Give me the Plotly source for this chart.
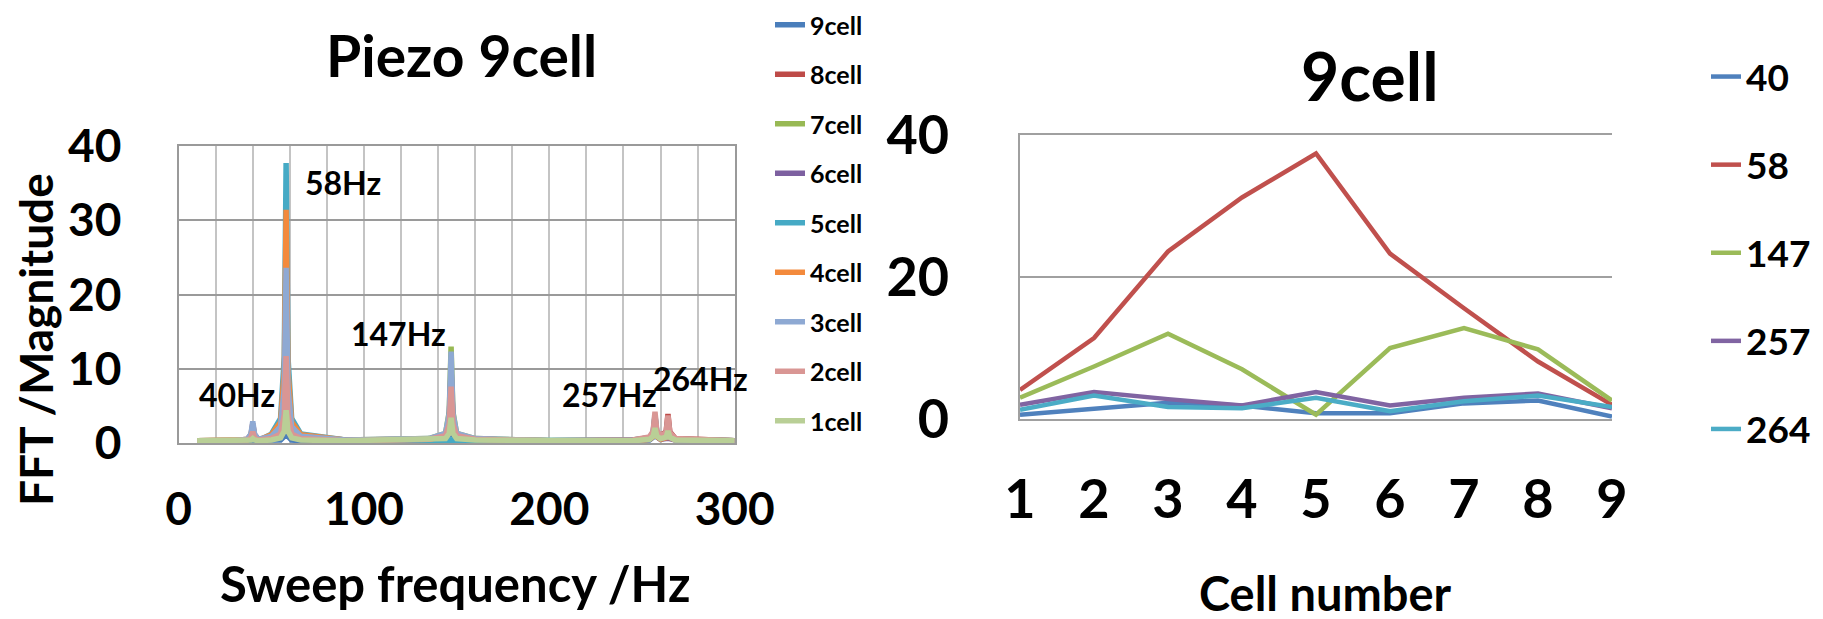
import plotly.graph_objects as go

# ---------------- sweep spectra (left panel) ----------------
freq_hz = [10, 30, 37, 39, 40, 41, 43, 50, 55, 57, 58, 59, 61, 66, 90,
           135, 144, 146, 147, 148, 150, 160, 200, 245, 254, 256, 257, 258,
           260, 263, 264, 265, 268, 300]

cell9 = [0.3, 0.3, 0.3, 0.3, 0.4, 0.3, 0.3, 0.3, 0.4, 0.9, 2.0, 0.9, 0.4, 0.3, 0.3,
         0.4, 0.5, 1.1, 2.8, 1.1, 0.5, 0.4, 0.3, 0.3, 0.4, 0.8, 1.8, 0.8,
         0.5, 0.8, 1.6, 0.8, 0.4, 0.3]
cell8 = [0.3, 0.3, 0.5, 1.1, 2.6, 1.1, 0.5, 0.5, 0.9, 2.7, 8.1, 2.7, 0.9, 0.5, 0.3,
         0.5, 1.1, 3.2, 9.8, 3.2, 1.1, 0.5, 0.3, 0.4, 0.7, 1.4, 3.6, 1.4,
         1.0, 1.5, 3.9, 1.5, 0.6, 0.3]
cell7 = [0.3, 0.3, 0.4, 1.0, 2.2, 1.0, 0.4, 0.7, 1.5, 5.0, 15.6, 5.0, 1.5, 0.7, 0.4,
         0.6, 1.3, 4.2, 13.0, 4.2, 1.3, 0.6, 0.3, 0.3, 0.6, 1.2, 3.0, 1.2,
         0.8, 1.0, 2.5, 1.0, 0.5, 0.3]
cell6 = [0.3, 0.3, 0.3, 0.5, 0.8, 0.5, 0.3, 0.9, 2.2, 7.3, 23.3, 7.3, 2.2, 0.9, 0.4,
         0.5, 1.1, 3.3, 10.0, 3.3, 1.1, 0.5, 0.3, 0.3, 0.5, 0.9, 1.9, 0.9,
         0.5, 0.6, 1.1, 0.6, 0.4, 0.3]
cell5 = [0.3, 0.3, 0.3, 0.5, 0.8, 0.5, 0.3, 1.2, 3.3, 11.6, 37.7, 11.6, 3.3, 1.2, 0.4,
         0.3, 0.2, 0.1, 0.6, 0.2, 0.3, 0.3, 0.3, 0.4, 0.7, 1.5, 3.8, 1.5,
         0.9, 1.2, 3.0, 1.2, 0.5, 0.3]
cell4 = [0.3, 0.3, 0.4, 0.9, 1.9, 0.9, 0.4, 1.1, 2.8, 9.7, 31.4, 9.7, 2.8, 1.1, 0.4,
         0.5, 0.9, 2.4, 7.0, 2.4, 0.9, 0.5, 0.3, 0.3, 0.5, 0.9, 1.9, 0.9,
         0.5, 0.7, 1.5, 0.7, 0.4, 0.3]
cell3 = [0.3, 0.3, 0.5, 1.2, 2.9, 1.2, 0.5, 0.9, 2.2, 7.4, 23.6, 7.4, 2.2, 0.9, 0.4,
         0.6, 1.3, 4.0, 12.3, 4.0, 1.3, 0.6, 0.3, 0.3, 0.6, 1.1, 2.8, 1.1,
         0.6, 0.8, 1.7, 0.8, 0.4, 0.3]
cell2 = [0.3, 0.3, 0.4, 0.7, 1.5, 0.7, 0.4, 0.6, 1.2, 3.8, 11.7, 3.8, 1.2, 0.6, 0.3,
         0.5, 1.0, 2.6, 7.6, 2.6, 1.0, 0.5, 0.3, 0.4, 0.8, 1.6, 4.2, 1.6,
         1.0, 1.4, 3.7, 1.4, 0.6, 0.3]
cell1 = [0.3, 0.3, 0.3, 0.4, 0.6, 0.4, 0.3, 0.4, 0.7, 1.6, 4.4, 1.6, 0.7, 0.4, 0.3,
         0.4, 0.6, 1.3, 3.4, 1.3, 0.6, 0.4, 0.3, 0.3, 0.5, 0.9, 2.0, 0.9,
         0.6, 0.8, 1.6, 0.8, 0.4, 0.3]

cell_names = ["9cell", "8cell", "7cell", "6cell", "5cell", "4cell", "3cell", "2cell", "1cell"]
cell_series = [cell9, cell8, cell7, cell6, cell5, cell4, cell3, cell2, cell1]
cell_colors = ["#4A7EBB", "#BE4B48", "#98B954", "#7D60A0", "#46AAC5",
               "#F38A3C", "#8EA9D3", "#D99694", "#B9CF96"]

peak_labels = ["40Hz", "58Hz", "147Hz", "257Hz", "264Hz"]
peak_label_x = [31.5, 88.7, 118.4, 232.2, 281.3]
peak_label_y = [6.5, 35.1, 14.8, 6.5, 8.75]

# ---------------- mode magnitude per cell (right panel) ----------------
cell_numbers = [1, 2, 3, 4, 5, 6, 7, 8, 9]
mode_names = ["40", "58", "147", "257", "264"]
mode_40 = [0.6, 1.4, 2.3, 1.9, 0.8, 0.8, 2.2, 2.6, 0.35]
mode_58 = [4.1, 11.4, 23.6, 31.2, 37.4, 23.3, 15.6, 8.1, 2.0]
mode_147 = [3.0, 7.4, 12.0, 7.0, 0.6, 10.0, 12.8, 9.8, 2.6]
mode_257 = [2.0, 3.8, 2.8, 1.9, 3.8, 1.9, 3.0, 3.6, 1.5]
mode_264 = [1.3, 3.3, 1.7, 1.5, 3.0, 1.1, 2.5, 3.3, 1.7]
mode_series = [mode_40, mode_58, mode_147, mode_257, mode_264]
mode_colors = ["#4F81BD", "#C0504D", "#9BBB59", "#8064A2", "#4BACC6"]

W, H = 1823, 619
FONT = "Lato, 'Open Sans', sans-serif"


def fx(p):
    return p / W


def fy(p):
    return 1 - p / H


fig = go.Figure()

for name, ys, col in zip(cell_names, cell_series, cell_colors):
    fig.add_trace(go.Scatter(
        x=freq_hz, y=ys, name=name, mode="lines",
        line=dict(color=col, width=5.5),
        xaxis="x", yaxis="y", legend="legend", legendgroup=name,
    ))

for name, ys, col in zip(mode_names, mode_series, mode_colors):
    fig.add_trace(go.Scatter(
        x=cell_numbers, y=ys, name=name, mode="lines",
        line=dict(color=col, width=4.5),
        xaxis="x2", yaxis="y2", legend="legend2", legendgroup="m" + name,
    ))

annotations = []
for txt, ax, ay in zip(peak_labels, peak_label_x, peak_label_y):
    annotations.append(dict(
        text=txt, x=ax, y=ay, xref="x", yref="y", showarrow=False,
        xanchor="center", yanchor="middle",
        font=dict(family=FONT, size=32, color="#000", weight="bold"),
    ))

titles = [
    ("Piezo 9cell", 462, 55, 57, 0),
    ("9cell", 1370, 76, 66, 0),
    ("FFT /Magnitude", 36, 340, 46, -90),
    ("Sweep frequency /Hz", 455, 583, 49, 0),
    ("Cell number", 1325, 593, 47, 0),
]
for txt, px, py, size, ang in titles:
    annotations.append(dict(
        text=txt, x=fx(px), y=fy(py), xref="paper", yref="paper",
        showarrow=False, xanchor="center", yanchor="middle", textangle=ang,
        font=dict(family=FONT, size=size, color="#000", weight="bold"),
    ))

tick_font_l = dict(family=FONT, size=46, color="#000", weight="bold")
tick_font_r = dict(family=FONT, size=54, color="#000", weight="bold")

fig.update_layout(
    width=W, height=H,
    margin=dict(l=0, r=0, t=0, b=0, autoexpand=False),
    paper_bgcolor="white", plot_bgcolor="white",
    font=dict(family=FONT, color="#000"),
    xaxis=dict(
        domain=[fx(178.6), fx(734.7)], range=[0, 300],
        tickvals=[0, 100, 200, 300], ticks="", tickfont=tick_font_l,
        ticklabelstandoff=25, tickangle=0, automargin=False,
        showgrid=True, gridcolor="#C4C4C4", gridwidth=2,
        minor=dict(dtick=20, showgrid=True, gridcolor="#C4C4C4", gridwidth=2),
        showline=True, mirror=True, linecolor="#9A9A9A", linewidth=2,
        zeroline=False, anchor="y",
    ),
    yaxis=dict(
        domain=[fy(443), fy(146)], range=[0, 40], dtick=10,
        ticks="", tickfont=tick_font_l, ticklabelstandoff=46, automargin=False,
        showgrid=True, gridcolor="#9A9A9A", gridwidth=2,
        showline=True, mirror=True, linecolor="#9A9A9A", linewidth=2,
        zeroline=False, anchor="x",
    ),
    xaxis2=dict(
        domain=[fx(1020), fx(1612)], range=[1, 9],
        tickvals=cell_numbers, ticks="", tickfont=tick_font_r,
        ticklabelstandoff=32, tickangle=0, automargin=False,
        showgrid=False, showline=True, mirror=True,
        linecolor="#A0A0A0", linewidth=2,
        zeroline=False, anchor="y2",
    ),
    yaxis2=dict(
        domain=[fy(419), fy(135)], range=[0, 40], dtick=20,
        ticks="", tickfont=tick_font_r, ticklabelstandoff=58, automargin=False,
        showgrid=True, gridcolor="#A0A0A0", gridwidth=2,
        showline=True, linecolor="#A0A0A0", linewidth=2,
        zeroline=False, anchor="x2",
    ),
    legend=dict(
        x=fx(770), y=fy(2), xref="container", yref="container",
        xanchor="left", yanchor="top", maxheight=617,
        font=dict(family=FONT, size=25, color="#000", weight="bold"),
        tracegroupgap=14, bgcolor="rgba(0,0,0,0)",
    ),
    legend2=dict(
        x=fx(1706), y=fy(46), xref="container", yref="container",
        xanchor="left", yanchor="top", maxheight=570,
        font=dict(family=FONT, size=37, color="#000", weight="bold"),
        tracegroupgap=37, bgcolor="rgba(0,0,0,0)",
    ),
    annotations=annotations,
    showlegend=True,
)

fig.write_html("out.html", config={"displayModeBar": False})
